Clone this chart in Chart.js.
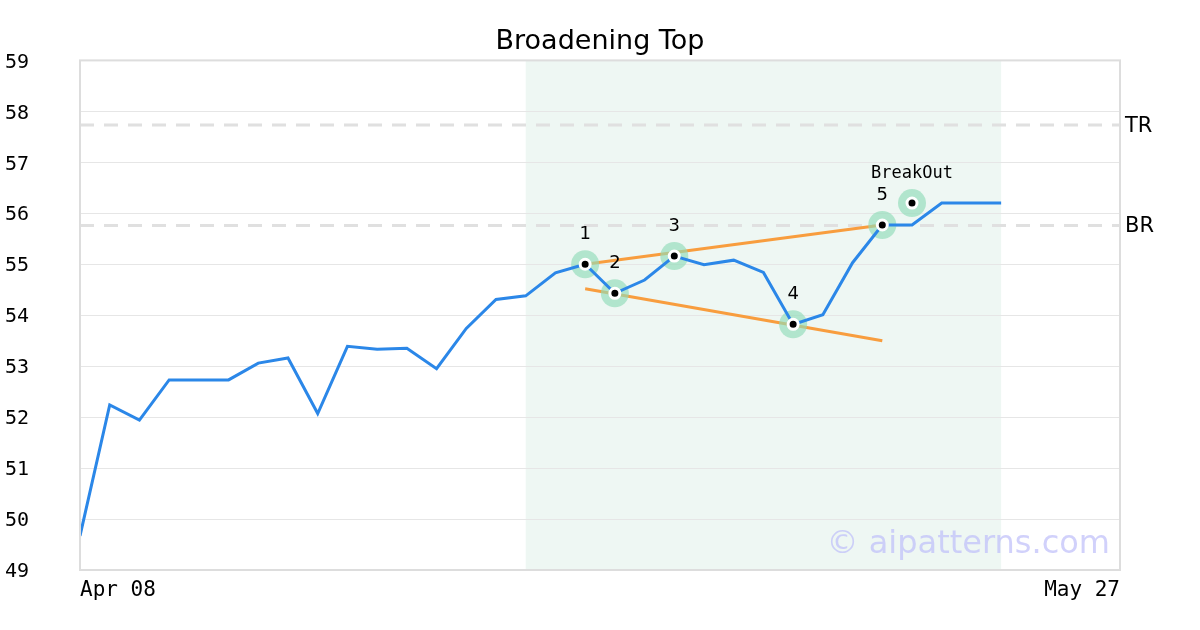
<!DOCTYPE html>
<html>
<head>
<meta charset="utf-8">
<script src="https://cdn.jsdelivr.net/npm/chart.js@4.4.1/dist/chart.umd.min.js"></script>
<style>
  html, body { margin: 0; padding: 0; background: #fff; }
  #wrap { width: 1200px; height: 630px; }
</style>
</head>
<body>
<div id="wrap"><canvas id="patternChart" width="1200" height="630"></canvas></div>
<script>
// trading-day index 0..31, axis spans 0..35
const prices = [49.67, 52.24, 51.94, 52.73, 52.73, 52.73, 53.06, 53.16, 52.07, 53.39,
                53.33, 53.35, 52.95, 53.74, 54.31, 54.38, 54.83, 55.00, 54.43, 54.69,
                55.16, 54.99, 55.08, 54.84, 53.82, 54.01, 55.03, 55.77, 55.77, 56.20,
                56.20, 56.20];
const xTickPos = [0, 35];
const xTickLabels = ["Apr 08", "May 27"];
const yMin = 49, yMax = 59;

// pattern points
const pivotIdx = [17, 18, 20, 24, 27];
const pivotVals = [55.00, 54.43, 55.16, 53.82, 55.77];
const pivotLabels = ["1", "2", "3", "4", "5"];
const breakIdx = [28];
const breakVals = [56.20];
const breakLabels = ["BreakOut"];

// trend lines
const upperLine = [[17, 55.00], [27, 55.77]];
const lowerLine = [[17, 54.52], [27, 53.50]];

// resistance levels
const levelNames = ["TR", "BR"];
const levelVals = [57.73, 55.76];

// shaded pattern range
const bandRange = [15, 31];

const pts = (xs, ys) => xs.map((x, i) => ({ x: x, y: ys[i] }));
const allMarkIdx = pivotIdx.concat(breakIdx);
const allMarkVals = pivotVals.concat(breakVals);

const levelSets = levelVals.map(v => ({
  data: [{ x: xTickPos[0], y: v }, { x: xTickPos[1], y: v }],
  borderColor: "#e0e0e0",
  borderWidth: 3,
  borderDash: [14, 10],
  pointRadius: 0,
  order: 9
}));

const overlay = {
  id: "overlay",
  beforeDraw(chart) {
    const { ctx, chartArea: a, scales: { x } } = chart;
    ctx.save();
    ctx.fillStyle = "#eef7f3";
    const x0 = x.getPixelForValue(bandRange[0]);
    const x1 = x.getPixelForValue(bandRange[1]);
    ctx.fillRect(x0, a.top, x1 - x0, a.bottom - a.top);
    ctx.restore();
  },
  afterDraw(chart) {
    const { ctx, chartArea: a, scales: { x, y } } = chart;
    ctx.save();
    // frame
    ctx.strokeStyle = "#dddddd";
    ctx.lineWidth = 2;
    ctx.strokeRect(a.left, a.top, a.right - a.left, a.bottom - a.top);

    // level names
    ctx.fillStyle = "#000";
    ctx.font = "21px 'DejaVu Sans'";
    ctx.textAlign = "left";
    ctx.textBaseline = "middle";
    levelNames.forEach((n, i) => {
      ctx.fillText(n, a.right + 5, y.getPixelForValue(levelVals[i]) + 1);
    });

    // pivot numbers
    ctx.textAlign = "center";
    ctx.textBaseline = "middle";
    ctx.font = "18px 'DejaVu Sans'";
    pivotLabels.forEach((t, i) => {
      ctx.fillText(t, x.getPixelForValue(pivotIdx[i]), y.getPixelForValue(pivotVals[i]) - 30);
    });
    ctx.font = "17px 'DejaVu Sans Mono'";
    breakLabels.forEach((t, i) => {
      ctx.fillText(t, x.getPixelForValue(breakIdx[i]), y.getPixelForValue(breakVals[i]) - 30);
    });

    // watermark
    ctx.font = "32px 'DejaVu Sans'";
    ctx.fillStyle = "rgba(190, 190, 250, 0.7)";
    ctx.textAlign = "right";
    ctx.textBaseline = "alphabetic";
    ctx.fillText("\u00a9 aipatterns.com", a.right - 10, a.bottom - 17);
    ctx.restore();
  }
};

new Chart(document.getElementById("patternChart"), {
  type: "line",
  data: {
    datasets: [
      {
        data: pts(allMarkIdx, allMarkVals),
        showLine: false,
        pointRadius: 5,
        pointBackgroundColor: "#000",
        pointBorderColor: "#fff",
        pointBorderWidth: 3,
        order: 1
      },
      {
        data: prices.map((v, i) => ({ x: i, y: v })),
        borderColor: "#2b87e8",
        borderWidth: 3,
        pointRadius: 0,
        tension: 0,
        order: 2
      },
      {
        data: pts(allMarkIdx, allMarkVals),
        showLine: false,
        pointRadius: 14,
        pointBackgroundColor: "rgba(145, 220, 185, 0.65)",
        pointBorderWidth: 0,
        order: 3
      },
      {
        data: upperLine.map(p => ({ x: p[0], y: p[1] })),
        borderColor: "#f89d3e",
        borderWidth: 3,
        pointRadius: 0,
        order: 4
      },
      {
        data: lowerLine.map(p => ({ x: p[0], y: p[1] })),
        borderColor: "#f89d3e",
        borderWidth: 3,
        pointRadius: 0,
        order: 4
      },
      ...levelSets
    ]
  },
  options: {
    responsive: false,
    animation: false,
    layout: { padding: { left: 5, right: 5 } },
    plugins: {
      legend: { display: false },
      tooltip: { enabled: false },
      title: {
        display: true,
        text: "Broadening Top",
        color: "#000",
        font: { family: "'DejaVu Sans'", size: 27, weight: "normal" },
        padding: { top: 26, bottom: 2 }
      }
    },
    scales: {
      x: {
        type: "linear",
        min: xTickPos[0],
        max: xTickPos[1],
        grid: { display: false, drawTicks: false },
        border: { display: false },
        afterBuildTicks: s => { s.ticks = xTickPos.map(v => ({ value: v })); },
        afterFit: s => { s.height = 60; },
        ticks: {
          align: "inner",
          maxRotation: 0,
          padding: 8,
          color: "#000",
          font: { family: "'DejaVu Sans Mono'", size: 21 },
          callback: v => xTickLabels[xTickPos.indexOf(v)]
        }
      },
      y: {
        min: yMin,
        max: yMax,
        grid: { color: "#e6e6e6", lineWidth: 1, drawTicks: false },
        border: { display: false },
        afterFit: s => { s.width = 75; },
        ticks: {
          stepSize: 1,
          crossAlign: "far",
          labelOffset: 2,
          color: "#000",
          font: { family: "'DejaVu Sans Mono'", size: 20 }
        }
      },
      yRight: {
        position: "right",
        min: yMin,
        max: yMax,
        grid: { display: false, drawTicks: false },
        border: { display: false },
        ticks: { display: false },
        afterFit: s => { s.width = 75; }
      }
    }
  },
  plugins: [overlay]
});
</script>
</body>
</html>
